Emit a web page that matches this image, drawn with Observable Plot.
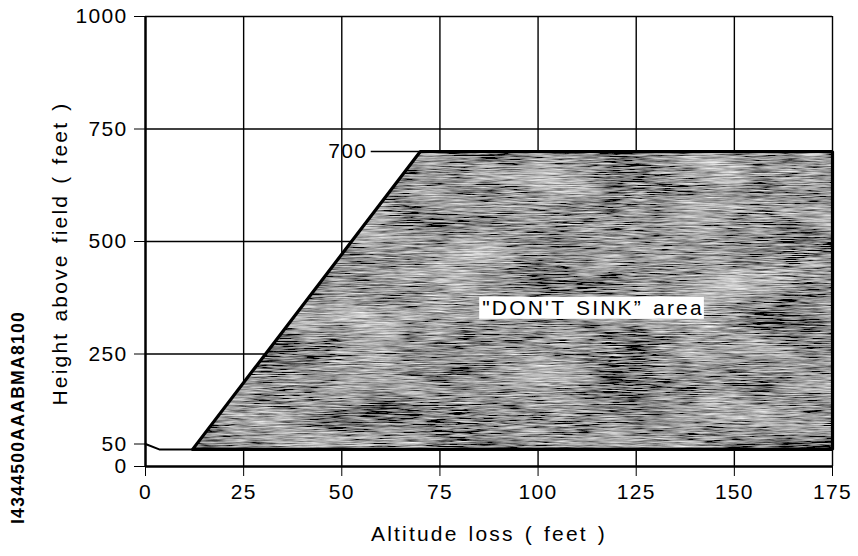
<!DOCTYPE html>
<html><head><meta charset="utf-8">
<script src="https://cdn.jsdelivr.net/npm/d3@7"></script>
<script src="https://cdn.jsdelivr.net/npm/@observablehq/plot@0.6"></script>
<style>
body{margin:0;background:#fff}svg{display:block}
#chart svg text{letter-spacing:1.3px}
#chart svg text.wide{letter-spacing:2.2px;word-spacing:2px}
</style></head>
<body><div id="chart"></div>
<script>
// ---- data ----
const xTicks = [0, 25, 50, 75, 100, 125, 150, 175];
const yTicks = [0, 50, 250, 500, 750, 1000];
const yGrid = [250, 500, 750, 1000];
const zoneX = [12, 70, 175];
const zoneTop = [38, 700, 700];
const zoneBottom = 38;
const hookX = [0, 3.5, 12];
const hookY = [50, 38, 38];
const topLabel = [{x: 56.5, y: 700, text: "700", x1: 57.5, x2: 70}];
const areaLabel = [{x: 114, y: 352, text: "\"DON'T SINK\u201D area"}];
const xTitle = "Altitude loss ( feet )";
const yTitle = "Height above field ( feet )";
const sideCode = "I4344500AAABMA8100";

const zone = zoneX.map((x, i) => ({x, top: zoneTop[i], bottom: zoneBottom}));
const outline = [...zone.map(d => ({x: d.x, y: d.top})), {x: zoneX[zoneX.length - 1], y: zoneBottom}, {x: zoneX[0], y: zoneBottom}, {x: zoneX[0], y: zoneTop[0]}];
const hook = hookX.map((x, i) => ({x, y: hookY[i]}));

const font = "'Liberation Sans', Arial, Helvetica, sans-serif";

const plot = Plot.plot({
  width: 858, height: 556,
  marginLeft: 145, marginRight: 26, marginTop: 16, marginBottom: 90,
  style: {fontFamily: font, fontSize: "21px", color: "#000", background: "#fff", overflow: "visible"},
  x: {domain: [0, 175], ticks: xTicks, tickSize: 10, tickPadding: 8, label: null, tickFormat: d => String(d)},
  y: {domain: [0, 1000], ticks: yTicks, tickSize: 11, tickPadding: 7, label: null, tickFormat: d => String(d)},
  marks: [
    Plot.ruleX(xTicks.slice(1), {y1: 0, y2: 1000, stroke: "#000", strokeWidth: 1.4}),
    Plot.ruleY(yGrid, {x1: 0, x2: 175, stroke: "#000", strokeWidth: 1.4}),
    Plot.areaY(zone, {x: "x", y1: "bottom", y2: "top", fill: "#888"}),
    Plot.ruleX([0], {y1: 0, y2: 1000, stroke: "#000", strokeWidth: 2.5}),
    Plot.ruleY([0], {x1: 0, x2: 175, stroke: "#000", strokeWidth: 2.5}),
    Plot.line(outline, {x: "x", y: "y", stroke: "#000", strokeWidth: 3.2, strokeLinejoin: "miter"}),
    Plot.line(hook, {x: "x", y: "y", stroke: "#000", strokeWidth: 2}),
    Plot.ruleY(topLabel, {y: "y", x1: "x1", x2: "x2", stroke: "#000", strokeWidth: 1.5}),
    Plot.text(topLabel, {x: "x", y: "y", text: "text", textAnchor: "end", fontSize: 21}),
    Plot.text(areaLabel, {x: "x", y: "y", text: "text", fontSize: 21, fill: "#000"}),
    Plot.text([xTitle], {frameAnchor: "bottom", dy: 74, text: d => d, fontSize: 21, textAnchor: "middle"}),
    Plot.text([yTitle], {frameAnchor: "left", dx: -85, dy: 12, rotate: -90, text: d => d, fontSize: 21, textAnchor: "middle"}),
    Plot.text([sideCode], {frameAnchor: "left", dx: -127, dy: 176, rotate: -90, text: d => d, fontSize: 17.5, fontWeight: "bold", textAnchor: "middle"})
  ]
});
document.getElementById("chart").appendChild(plot);

const svg = d3.select(plot);
svg.selectAll("text").each(function() {
  const s = this.textContent;
  if (s.indexOf("DON") >= 0 || s === xTitle || s === yTitle) this.classList.add("wide");
});

// texture for the shaded area
const defs = svg.insert("defs", ":first-child");
const f = defs.append("filter").attr("id", "grain").attr("x", "0").attr("y", "0").attr("width", "1").attr("height", "1");
f.append("feTurbulence").attr("type", "fractalNoise").attr("baseFrequency", "0.04 0.9").attr("numOctaves", 3).attr("seed", 7).attr("result", "a");
f.append("feTurbulence").attr("type", "fractalNoise").attr("baseFrequency", "0.012 0.03").attr("numOctaves", 2).attr("seed", 3).attr("result", "b");
f.append("feComposite").attr("in", "a").attr("in2", "b").attr("operator", "arithmetic")
  .attr("k1", 0).attr("k2", 0.8).attr("k3", 0.4).attr("k4", -0.09).attr("result", "c");
f.append("feColorMatrix").attr("in", "c").attr("type", "matrix")
  .attr("values", "1.6 0 0 0 -0.34  1.6 0 0 0 -0.34  1.6 0 0 0 -0.34  0 0 0 0 1").attr("result", "g");
f.append("feComposite").attr("in", "g").attr("in2", "SourceGraphic").attr("operator", "in");
svg.selectAll('g[aria-label="area"] path').attr("filter", "url(#grain)");

// white box behind the area label
svg.selectAll("text").each(function() {
  if (this.textContent.indexOf("DON") >= 0) {
    const b = this.getBBox();
    const t = this.getAttribute("transform");
    const r = document.createElementNS("http://www.w3.org/2000/svg", "rect");
    r.setAttribute("x", b.x - 3); r.setAttribute("y", b.y + 1);
    r.setAttribute("width", b.width + 3); r.setAttribute("height", b.height - 1);
    r.setAttribute("fill", "#fff");
    if (t) r.setAttribute("transform", t);
    this.parentNode.insertBefore(r, this);
  }
});
</script>
</body></html>
